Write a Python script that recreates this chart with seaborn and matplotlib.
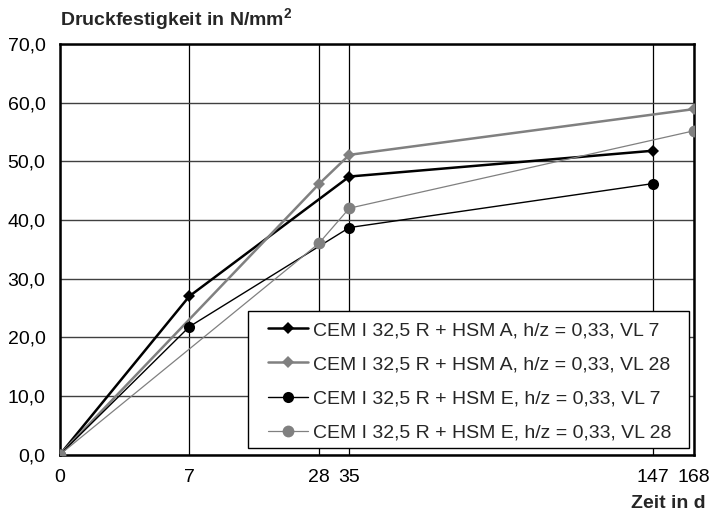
import numpy as np
import pandas as pd
import matplotlib
matplotlib.use("Agg")
import matplotlib.pyplot as plt
from matplotlib.patches import Rectangle
import seaborn as sns

# Compressive strength over curing age (days)
series_labels = [
    "CEM I 32,5 R + HSM A, h/z = 0,33, VL 7",
    "CEM I 32,5 R + HSM A, h/z = 0,33, VL 28",
    "CEM I 32,5 R + HSM E, h/z = 0,33, VL 7",
    "CEM I 32,5 R + HSM E, h/z = 0,33, VL 28",
]
days_a_vl7 = [0, 7, 35, 147]
strength_a_vl7 = [0.0, 27.0, 47.4, 51.8]
days_a_vl28 = [0, 28, 35, 168]
strength_a_vl28 = [0.0, 46.1, 51.1, 58.9]
days_e_vl7 = [0, 7, 35, 147]
strength_e_vl7 = [0.0, 21.8, 38.7, 46.2]
days_e_vl28 = [0, 28, 35, 168]
strength_e_vl28 = [0.0, 36.0, 42.0, 55.2]

x_ticks = [0, 7, 28, 35, 147, 168]
y_ticks = [0, 10, 20, 30, 40, 50, 60, 70]

sns.set_theme(style="white")
plt.rcParams["font.family"] = ["Liberation Sans", "DejaVu Sans"]
plt.rcParams["mathtext.fontset"] = "custom"
plt.rcParams["mathtext.bf"] = "Liberation Sans:bold"
plt.rcParams["mathtext.rm"] = "Liberation Sans"

W, H = 709, 518
fig = plt.figure(figsize=(W / 100, H / 100), dpi=100)
ax_left, ax_right, ax_top, ax_bottom = 60, 694, 44, 454.5
ax = fig.add_axes([ax_left / W, 1 - ax_bottom / H,
                   (ax_right - ax_left) / W, (ax_bottom - ax_top) / H])

styles = [
    (days_a_vl7, strength_a_vl7, "black", "D", 1.8, 6),
    (days_a_vl28, strength_a_vl28, "#808080", "D", 1.8, 6),
    (days_e_vl7, strength_e_vl7, "black", "o", 1.0, 8),
    (days_e_vl28, strength_e_vl28, "#808080", "o", 0.9, 8.5),
]
for label, (xs, ys, col, mk, lw, ms) in zip(series_labels, styles):
    df = pd.DataFrame({"Zeit": xs, "Festigkeit": ys})
    sns.lineplot(data=df, x="Zeit", y="Festigkeit", ax=ax, color=col, marker=mk,
                 markersize=ms, markeredgewidth=0,
                 linewidth=lw, label=label, zorder=3)

# square-root time axis
ax.set_xscale("function", functions=(lambda v: np.sqrt(np.clip(v, 0, None)),
                                      lambda v: np.square(v)))
ax.set_xlim(0, 168)
ax.set_ylim(0, 70)
ax.set_xticks(x_ticks)
ax.set_xticklabels([str(t) for t in x_ticks])
ax.set_yticks(y_ticks)
ax.set_yticklabels([f"{t:.1f}".replace(".", ",") for t in y_ticks])
ax.tick_params(axis="both", length=0, labelsize=14, colors="black")
ax.tick_params(axis="x", pad=10.5)
ax.tick_params(axis="y", pad=10.5)
ax.minorticks_off()

ax.grid(True, axis="y", color="#404040", linewidth=1.0)
ax.grid(True, axis="x", color="black", linewidth=0.9)
ax.set_axisbelow(True)
for sp in ax.spines.values():
    sp.set_visible(True)
    sp.set_color("black")
    sp.set_linewidth(1.8)

ax.set_xlabel("")
ax.set_ylabel("")

fig.text(60 / W, 1 - 20 / H, r"Druckfestigkeit in N/mm$^{\mathbf{2}}$",
         fontsize=14, fontweight="bold", ha="left", va="center")
fig.text(706 / W, 1 - 503 / H, "Zeit in d", fontsize=14, fontweight="bold",
         ha="right", va="center")

# legend box with wider side margins than top/bottom
def ax_frac_x(px):
    return (px - ax_left) / (ax_right - ax_left)

def ax_frac_y(py):
    return (ax_bottom - py) / (ax_bottom - ax_top)

box_l, box_r, box_t, box_b = 248, 689, 311, 448
ax.add_patch(Rectangle((ax_frac_x(box_l), ax_frac_y(box_b)),
                       ax_frac_x(box_r) - ax_frac_x(box_l),
                       ax_frac_y(box_t) - ax_frac_y(box_b),
                       transform=ax.transAxes, facecolor="white",
                       edgecolor="black", linewidth=1.0, zorder=4.5))
leg = ax.legend(loc="center left",
                bbox_to_anchor=(ax_frac_x(268), ax_frac_y((box_t + box_b) / 2 + 2)),
                fontsize=14, frameon=False, handlelength=2.05, handletextpad=0.26,
                borderpad=0, labelspacing=0.85, borderaxespad=0)
leg.set_zorder(5)

fig.savefig("out.png", dpi=100)
